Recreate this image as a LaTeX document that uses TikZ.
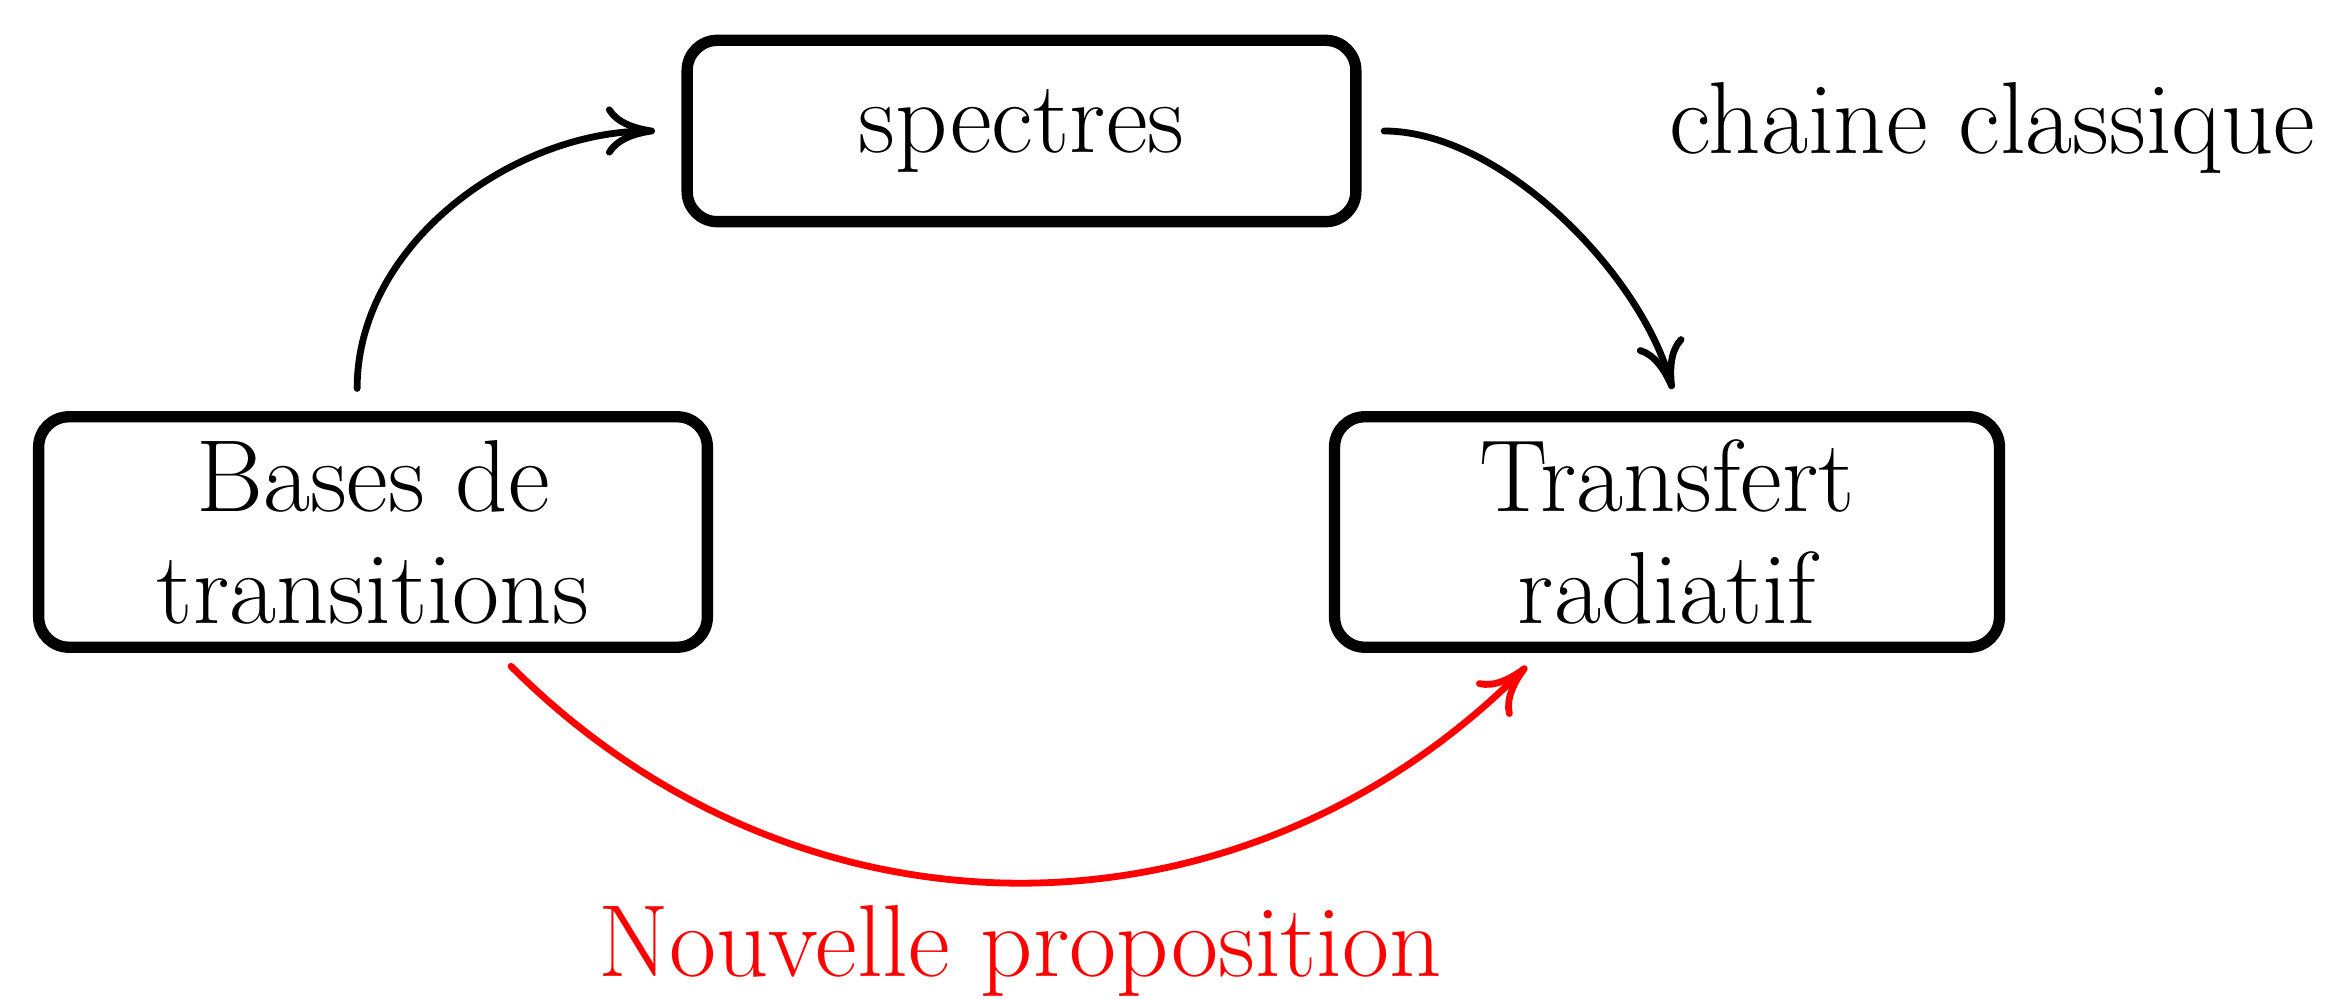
\documentclass[tikz,border=0pt]{standalone}
\usetikzlibrary{arrows.meta}
\newcommand{\bigtext}{\fontsize{27.1}{29.6}\selectfont}
\begin{document}
\begin{tikzpicture}[
  x=0.2647pt, y=-0.2647pt,
  box/.style={draw, line width=3pt, rounded corners=8pt, font=\bigtext,
    align=center, inner sep=2pt, minimum width=177pt},
  link/.style={line width=1.8pt, line cap=round,
    -{Computer Modern Rightarrow[length=13pt,width=13pt,line width=1.8pt]}},
]
\useasboundingbox (0,0) rectangle (2326,999);

% the three stages
\node[box, minimum height=61pt] (bases) at (373,532) {Bases de\\transitions};
\node[box, minimum height=48pt] (spectres) at (1021.5,131) {spectres};
\node[box, minimum height=61pt, minimum width=176pt] (transfert) at (1667,532) {Transfert\\radiatif};

% labels
\node[font=\bigtext, anchor=base east, inner sep=0pt] (chaine) at (2316,154) {chaine classique};
\node[font=\bigtext, anchor=base, inner sep=0pt, text=red] (nouvelle) at (1020,976) {Nouvelle proposition};

% classical chain
\draw[link, shorten <=6pt, shorten >=7pt]
  ([xshift=-4.2pt]bases.north) to[out=90, in=180] (spectres.west);
\draw[link, shorten <=6pt, shorten >=6pt]
  (spectres.east) to[out=0, in=105, looseness=0.85] ([xshift=3pt]transfert.north);

% new proposal
\draw[link, red, shorten <=5pt, shorten >=5pt]
  ([xshift=33pt]bases.south) to[out=-45, in=-135, looseness=1.05] ([xshift=-33.6pt]transfert.south);
\end{tikzpicture}
\end{document}
